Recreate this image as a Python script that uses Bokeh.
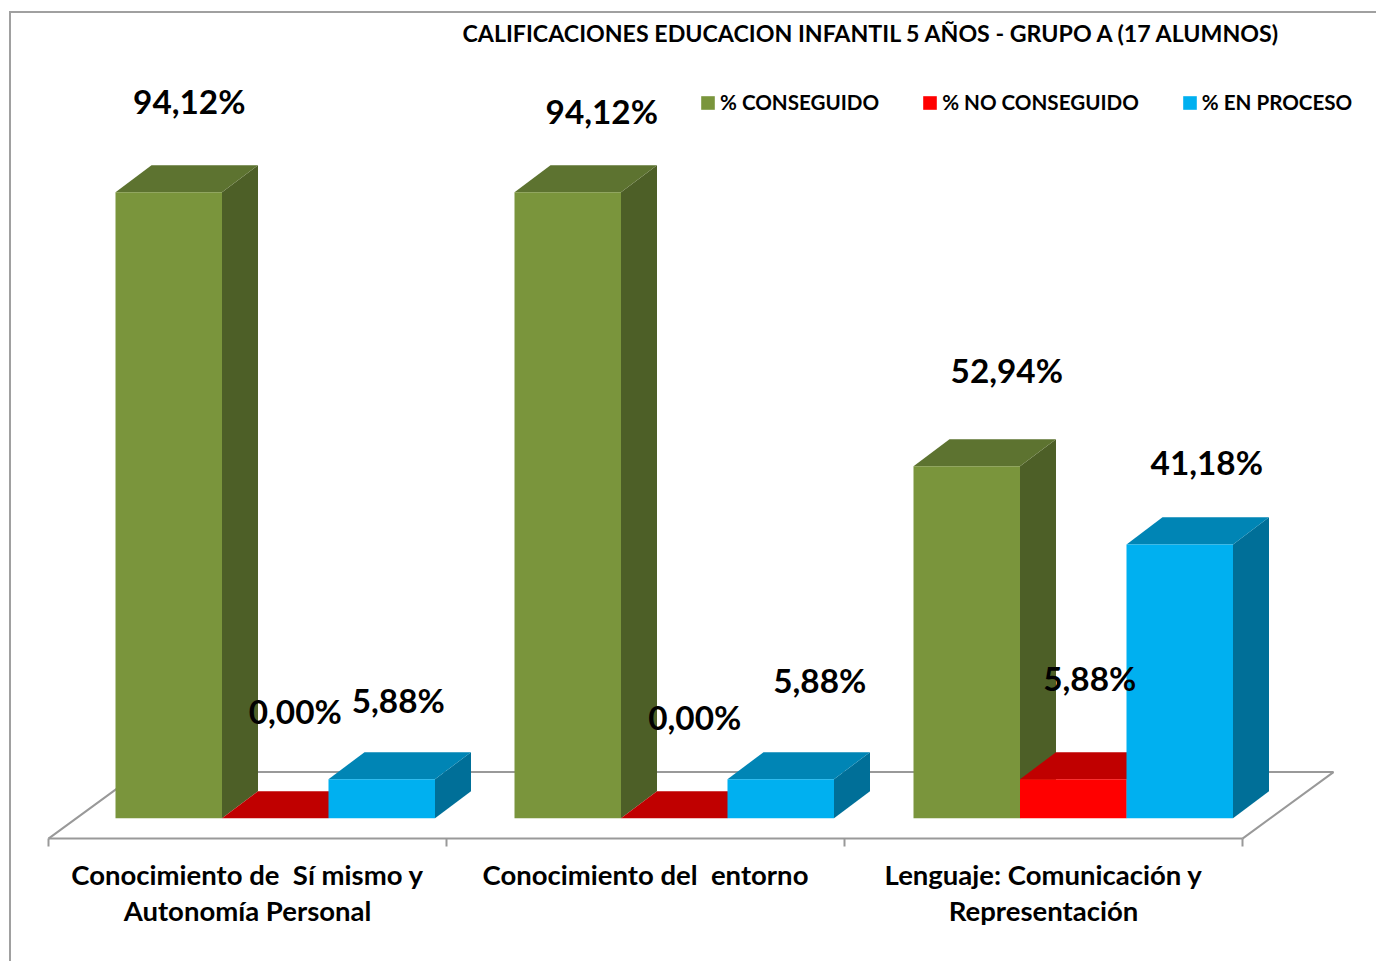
from bokeh.plotting import figure
from bokeh.embed import file_html
from bokeh.resources import INLINE
from bokeh.core.properties import value
from bokeh.models import (ColumnDataSource, LinearAxis, FixedTicker, Legend, LegendItem, Title)

# ---- data -------------------------------------------------------------
CATEGORIES = ["Conocimiento de\u00a0 Sí mismo y\nAutonomía Personal",
              "Conocimiento del\u00a0 entorno",
              "Lenguaje: Comunicación y\nRepresentación"]
CONSEGUIDO = [94.12, 94.12, 52.94]
NO_CONSEGUIDO = [0.00, 0.00, 5.88]
EN_PROCESO = [5.88, 5.88, 41.18]
SERIES_NAMES = ["% CONSEGUIDO", "% NO CONSEGUIDO", "% EN PROCESO"]
TITLE = "CALIFICACIONES EDUCACION INFANTIL 5 AÑOS - GRUPO A (17 ALUMNOS)"

# ---- styles -----------------------------------------------------------
FRONT = ["#7A953C", "#FF0000", "#00B0F0"]
TOP = ["#5D7330", "#C00000", "#0085B5"]
SIDE = ["#4D5F27", "#A00000", "#006F98"]
FONT = "Lato"
# label placement relative to the front-top centre of its bar (px)
LABEL_DX = [[20.5, 34, 40], [20, 20.5, 16.5], [16.5, 39, 27]]
LABEL_DY = [[-91, -81, -96], [-107, -101, -101], [-79, -99, -82]]

PX_PER_CAT = 398.0
PX_PER_VAL = 6.645
X0_PAGE, Y0_PAGE = 48.0, 818.0
LEFT, TOP_EDGE = 11, 13          # canvas origin on the page
W, H = 1378 - LEFT, 963 - TOP_EDGE
FRAME_TOP_PAGE = 51.0

BAR_STEP = 399 / PX_PER_CAT
BAR_OFFSET = 67 / PX_PER_CAT
BAR_W = 106.5 / PX_PER_CAT
DEPTH_X = 36 / PX_PER_CAT
DEPTH_Y = 27 / PX_PER_VAL
FLOOR_Y = -20.3 / PX_PER_VAL
FLOOR_DX = 91 / PX_PER_CAT
FLOOR_DY = 66.5 / PX_PER_VAL
LINE_GREY = "#999999"

x_start = (LEFT - X0_PAGE) / PX_PER_CAT
x_end = (LEFT + W - X0_PAGE) / PX_PER_CAT
y_start = (Y0_PAGE - (TOP_EDGE + H)) / PX_PER_VAL
y_end = (Y0_PAGE - FRAME_TOP_PAGE) / PX_PER_VAL

p = figure(width=W, height=H, output_backend="svg", toolbar_location=None,
           x_range=(x_start, x_end), y_range=(y_start, y_end),
           x_axis_location=None, y_axis_location=None,
           min_border=0, min_border_left=0, min_border_right=0,
           min_border_top=0, min_border_bottom=0,
           margin=(TOP_EDGE - 2, 0, 0, LEFT - 2),
           styles={"border-top": "2px solid #A0A0A0", "border-left": "2px solid #A0A0A0"})
p.grid.visible = False
p.outline_line_color = None
p.background_fill_color = "white"
p.border_fill_color = "white"

p.title = Title(text=TITLE, align="left", offset=462 - LEFT, standoff=7,
                text_font=FONT, text_font_size="23.2px", text_font_style="bold",
                text_color="black")

# floor
n = len(CATEGORIES)
p.multi_line(xs=[[0, FLOOR_DX, n + FLOOR_DX, n]],
             ys=[[FLOOR_Y, FLOOR_Y + FLOOR_DY, FLOOR_Y + FLOOR_DY, FLOOR_Y]],
             line_color=LINE_GREY, line_width=2)

axis = LinearAxis(ticker=FixedTicker(ticks=list(range(n + 1))),
                  fixed_location=FLOOR_Y, bounds=(0, n),
                  major_label_overrides={i: "" for i in range(n + 1)},
                  major_tick_in=0, major_tick_out=8, minor_tick_in=0, minor_tick_out=0,
                  axis_line_color=LINE_GREY, axis_line_width=2,
                  major_tick_line_color=LINE_GREY, major_tick_line_width=2)
p.add_layout(axis, "below")

# 3-D bars
series_values = [CONSEGUIDO, NO_CONSEGUIDO, EN_PROCESO]
items = []
for s, vals in enumerate(series_values):
    front_x, front_y, top_x, top_y, side_x, side_y = [], [], [], [], [], []
    for c, v in enumerate(vals):
        x0 = c * BAR_STEP + BAR_OFFSET + s * BAR_W
        x1 = x0 + BAR_W
        front_x.append([x0, x1, x1, x0])
        front_y.append([0, 0, v, v])
        top_x.append([x0, x1, x1 + DEPTH_X, x0 + DEPTH_X])
        top_y.append([v, v, v + DEPTH_Y, v + DEPTH_Y])
        side_x.append([x1, x1 + DEPTH_X, x1 + DEPTH_X, x1])
        side_y.append([0, DEPTH_Y, v + DEPTH_Y, v])
    p.patches(side_x, side_y, fill_color=SIDE[s], line_color=None)
    p.patches(top_x, top_y, fill_color=TOP[s], line_color=None)
    r = p.patches(front_x, front_y, fill_color=FRONT[s], line_color=None)
    items.append(LegendItem(label=SERIES_NAMES[s], renderers=[r]))

legend = Legend(items=items, orientation="horizontal", location=(688, 849),
                glyph_width=17, glyph_height=17, label_standoff=4, spacing=42,
                padding=0, margin=0, border_line_color=None, background_fill_alpha=0,
                label_text_font=FONT, label_text_font_size="20.6px",
                label_text_font_style="bold", label_text_color="black",
                label_height=14)
p.add_layout(legend, "center")

# value labels
lx, ly, lt, ldx, ldy = [], [], [], [], []
for s, vals in enumerate(series_values):
    for c, v in enumerate(vals):
        lx.append(c * BAR_STEP + BAR_OFFSET + (s + 0.5) * BAR_W)
        ly.append(v)
        lt.append(f"{v:.2f}%".replace(".", ","))
        ldx.append(LABEL_DX[s][c])
        ldy.append(LABEL_DY[s][c])
p.text(x="x", y="y", text="t", x_offset="dx", y_offset="dy",
       source=ColumnDataSource(dict(x=lx, y=ly, t=lt, dx=ldx, dy=ldy)),
       text_font=value(FONT), text_font_style="bold", text_font_size="33.3px",
       text_align="center", text_baseline="middle", text_color="black")

# category labels
p.text(x=[i + 0.5 for i in range(n)], y=[FLOOR_Y] * n, text=CATEGORIES,
       y_offset=[19] * n,
       text_font=value(FONT), text_font_style="bold", text_font_size="27.5px",
       text_align="center", text_baseline="top", text_color="black",
       text_line_height=1.09)

open("out.html", "w").write(file_html(p, INLINE))
